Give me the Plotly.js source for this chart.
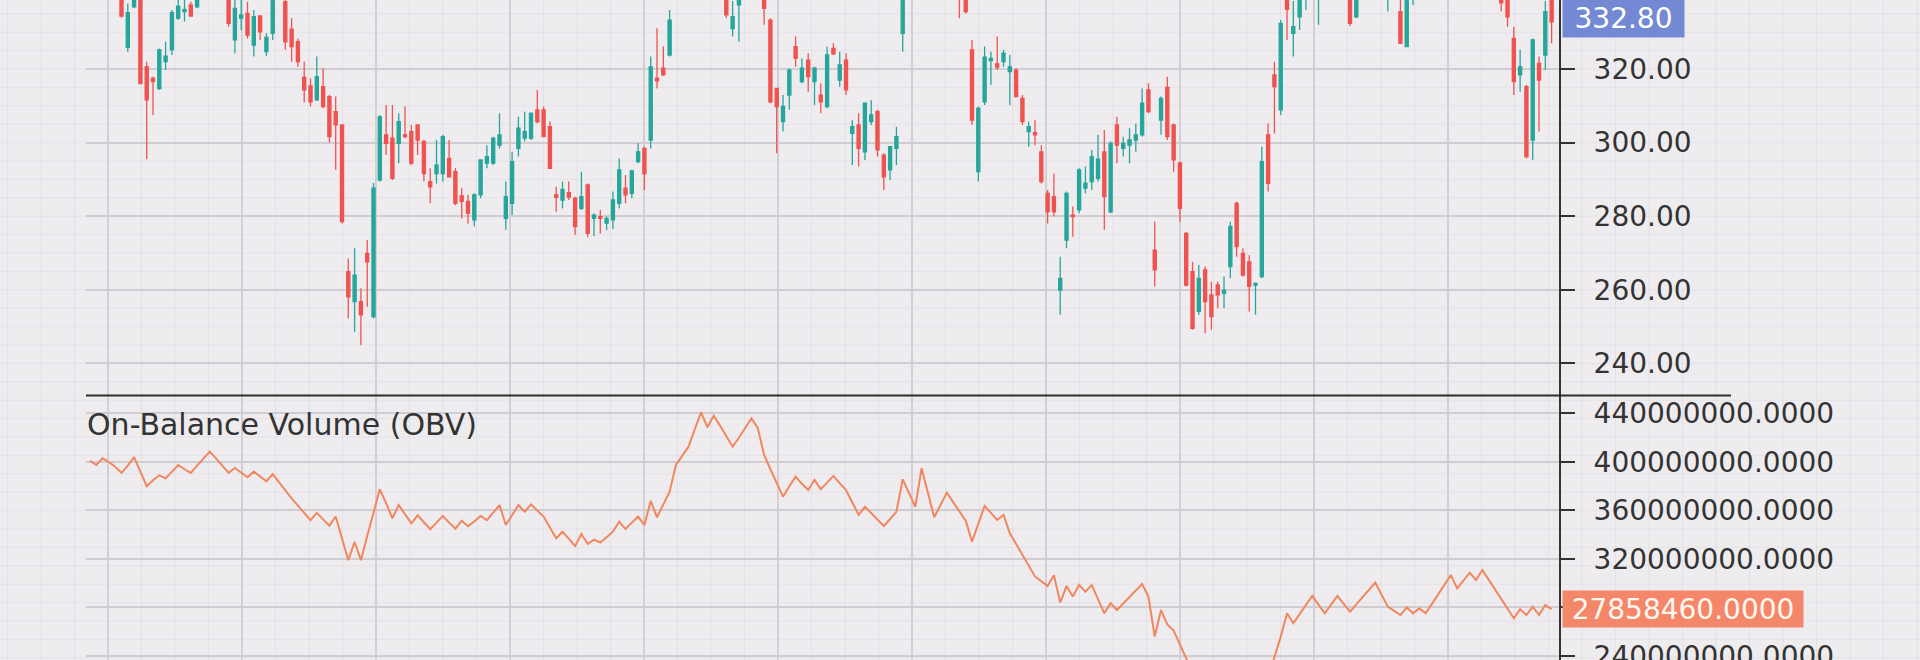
<!DOCTYPE html>
<html>
<head>
<meta charset="utf-8">
<script src="https://cdn.plot.ly/plotly-3.0.1.min.js"></script>
<style>
html,body{margin:0;padding:0;background:#efecf0;}
#chart{width:1920px;height:660px;}
</style>
</head>
<body>
<div id="chart"></div>
<script>
// ---- data ----
const openP = [
345,343,341.5,345,343,341,325.9,336.9,341,320.6,
317.5,314.7,322,325.2,333.8,335.6,337.4,336.9,340,344,
347,344,341,327.9,333.8,335.1,326.5,334.4,324.7,329.7,
340,338.3,330.8,327.4,317.7,315.4,311.6,315.2,312.5,308.4,
304.8,264.9,256.8,256.8,269.9,252.7,289.8,302.1,301.2,299.8,
302.1,303,304.8,300.3,289.4,291.6,291.6,295.7,292.1,285.5,
284,279,285.8,294.4,294.4,299.3,279.4,283.5,298.4,301.2,
301.2,308.9,308.9,304.3,285.8,284.4,286.4,284.9,282.1,288.5,
279.4,279.9,278.1,279,283.5,287.6,286.2,294.8,298.4,300.7,
317.5,320.2,323.8,340,343,345.5,349,352,350,347,
349.5,341,331,337.4,340.5,344,346.5,341,333.3,314.7,
305.7,312.9,326.1,316.6,322.4,316.6,312.9,309.8,325.6,317,
322.4,302.5,304.8,297.5,305.7,308.4,296.6,292.6,298.4,329.7,
340,343,341,347,343,340.5,344,348,341,341,
325.2,292.1,311.1,322.3,321.4,322,319.3,319.7,312,303,
302.7,297.5,286.2,285.3,259.9,273.5,280.3,281.7,287.6,289.4,
290.3,297.5,281.2,304.8,298.4,299.3,300.7,302.1,314.3,270.8,
306.1,315,304.8,294.5,275.3,264.9,254.1,265.4,258.6,261.3,
259,266.3,283.5,269.9,267.6,261.3,263.6,302.1,318.4,308.9,
340,329.7,334.2,339.5,341,340,342,345,343,347,
341,334.2,340,343,346,349,339.5,341,335.6,326.1,
339.5,341,344,341,345,348,351,354,350,353,
356,352,355,350,339.5,339.5,328.3,318.4,315.2,300.7,
321.5,323.8,339
];
const highP = [
347,345,346,346.5,344,341.5,337.8,341,343,322,
317.9,325.6,327.4,336,339,339.5,338.3,341,345,348,
348.5,345.5,343,340,339.5,338.3,336,334.6,329.7,341,
344,340,333.8,328.3,322,317.5,323.4,320.2,313,312.5,
305,268.5,271.3,260.4,273.5,289,307.5,310.2,310.2,308,
309.8,304.8,304.8,300.7,293,300.7,302.1,300.7,293,287.6,
285.8,286.2,295.3,299.3,301.6,308,289.4,297.5,307,308.4,
308,314.3,309.8,305.7,288,289.4,289.4,285.3,292.1,288.9,
280.8,281.7,279.9,286.7,295.7,291.2,292.6,299.8,298.9,323.4,
331.1,326.1,336,345,347,350,354,356,352,351,
350,343,338.5,341.5,345,348,347,343,333.8,314.7,
312.9,320.2,328.8,322.9,324.3,320.6,316.1,326.1,327,324.7,
324.3,306.1,308,310.7,311.6,308.9,297.1,298.9,304.3,341,
344,345,348,348,344,345,349,349,343,342,
327.9,309.8,326.1,324.7,328.8,325.2,323.8,320.2,312.9,305.7,
306.1,299.3,287.1,291.6,269,286.7,282.6,293,293.5,298,
302.1,303.4,300.3,307,301.6,303.9,305.2,314.7,316.1,278.5,
312.5,317.9,305.2,294.8,275.8,267.6,266.7,266.3,262.2,262.2,
263.6,278.5,284,271.3,269.4,262,298.9,305.2,322,333.3,
341,338.5,340,343,345,343,346,347,348,348,
343,341,344,347,350,350,342.5,342,339.5,341,
342,345,345,346,349,352,355,355,354,357,
357,356,356,351,341,341,331.5,325.2,315.7,328.3,
323.4,338.5,340
];
const lowP = [
342,340.5,340.5,342,340,333.9,324.7,336.5,315.8,295.5,
307.5,314.3,319.7,323.8,333.3,332.9,334.2,336.5,339.6,342,
343,340.5,331.5,324.3,330.6,328.3,323.4,327.9,323.5,327.9,
339.6,325.2,322,320.6,310.9,309.8,311.3,309.3,300,292.6,
278,252.2,248.6,245,255.4,252.2,289.4,296.6,289.8,294.4,
301.2,293.9,296.6,289.4,283.5,288.9,289.4,290.7,283,279.4,
278,277.2,284.9,293,293.9,298.4,276.3,280.3,296.2,300.3,
300.7,305.2,301.6,293,281.2,282.1,284.4,274.9,281.7,274.3,
274.6,275.3,276.2,276.5,282.1,283.5,284.9,294.4,287.1,298.4,
314.7,318.1,323.4,339.6,341,344,347,349,346,345,
344,333.8,328.8,327.4,339.8,342,342,332,310.7,297.1,
303,308.9,320.6,316.1,313.8,310.2,308,309.3,323.8,315.2,
312.9,293.9,293.5,295.3,304.8,296.2,287.1,289.8,293.9,324.7,
339.6,340,340.5,342,339.8,340,343,343,333.8,335,
304.8,289.4,310.2,315.7,319.7,320.6,310.2,312.5,304.8,298.9,
299.3,288.9,278,279.9,253.2,271.3,274.4,280.8,286.2,287.1,
289.4,276.3,280.8,294.4,296.2,294.4,297.5,301.6,308,260.9,
302.1,300.7,292.1,278.5,260.9,249.1,253.2,248.2,249.1,255,
255,263.1,269,263.6,254.1,253.2,263.1,286.7,302.5,307.5,
327.9,323.4,330.6,336,340,332,341,342,342.5,343,
331.7,333.8,339.6,342,345,344,335.6,339.6,327,325.9,
337.4,340,340,340.5,344,347,350,349,349,352,
351,351,349,343,335.6,331.5,312.9,313.8,295.7,295.3,
303,319.7,327
];
const closeP = [
343,341.5,345,343,341,334.4,335.3,339.5,316.1,311.6,
316.6,325.2,323.5,335.3,337.1,336.2,334.4,339.5,344,347,
344,341.5,332.4,336.5,334.7,329.2,334.2,330.1,328.6,339.5,
342,327.4,326.1,322,314.3,311.1,317.9,309.8,301.6,304.8,
278.5,258.1,264,253.2,267.6,287.6,307,299.8,290.3,305.7,
301.6,294.4,300.7,291.6,288,293.9,301.6,290.7,283.5,284,
280.8,285.8,295.3,296.2,301.2,302.1,285.3,294.8,303.9,303,
308,305.7,301.6,293,285.1,287.3,285.1,277.2,285.3,275.3,
280.3,279.4,279.4,284.4,292.6,285.8,292.3,297.5,291.6,320.6,
316.8,318.4,333.3,343,345.5,349,352,350,347,349.5,
345,334.7,334.2,340,344,346.5,343,336.5,311.1,309.8,
309.8,319.7,322.9,320.2,317.9,320.2,311.1,323.8,324.1,321.1,
314.3,304.3,298.4,310.7,307.5,298,290.7,298.9,301.6,339,
343,341,347,343,340.5,344,348,344.5,339.5,335.6,
306.1,309.3,323.2,322.9,320.5,324.3,320.6,312.5,305.7,304.3,
302.1,289.4,281.2,281.2,263.1,286.2,279.9,292.6,289,296.2,
295.5,285.3,299.8,299.3,299.8,300.7,302.1,310.7,308.4,265.4,
312,301.6,295.3,282.1,261.3,249.5,263.1,256.8,252.7,258.6,
259.8,277.2,271.7,264,260.9,261.7,294.8,288.9,315.2,332.4,
336.2,331.5,338.7,341,344,342,345,343,347,344,
332.4,339.5,343,346,349,345,341,340,327,339,
341,344,341,345,348,351,354,350,353,356,
352,355,350,344,338,334.2,316.6,320.6,296.2,327.9,
317,335.6,332.8
];
// On-Balance Volume, in millions
const obvMillions = [
401,397.5,403,400,396,391,397,404,392,380,
385,389,386.5,392,397.5,394,391,397,403,408.5,
403,397,391,395,391,387.4,392,388,384,390,
383,376,370,364,358,352,358,353,347.5,355,
337,319,334,319,339,358,377.5,366,353.6,364.5,
357,349.4,356,350,344.5,350,355.5,350,345,351.6,
347,351,355.5,352,358,364.5,348,356,364.5,359,
365,360,355,346,337,342.5,336.6,330.7,340.6,332.4,
336,333.5,338,342.5,350.8,344.7,350,355,348,368,
354.4,365,375.5,397.5,405,412.6,427,441,428.6,438.2,
430,421,412.6,420,428,436,427.8,405.8,394,382.4,
371.4,380,387.9,382,376.9,385.2,377.5,383,388.5,382.5,
376.9,366.6,356.3,363.1,357.8,352.5,347.2,353,359,385.7,
374.4,363.1,394.8,374.6,354.4,364.5,374.7,366.9,359.3,351.6,
334.3,349,363.7,358,352.2,356.3,341.2,332.3,323.4,314.5,
305.6,301.6,297.7,306.6,284,297.7,289,298.6,293,298.6,
286.9,275.2,283.5,277.9,283.3,288.7,294,299.4,289,256,
277.9,266,261,249,238,228,220,212,205,200,
196,205,200,195,190,188,205,222,240,256,
275.2,267,274.5,282,289.5,282.4,275.2,282.4,289.5,283,
276.5,282.5,288.5,294.5,300.5,290.6,280.7,277.2,273.8,280.2,
275.2,279.3,275.2,283,291,298.9,306.8,295.8,302.3,308.7,
302.7,310.9,303,295,287,279,271.1,278.5,273.8,280.7,
273.8,282,278.5846
];
const priceTicks = [240, 260, 280, 300, 320, 340];
const obvTicks = [240e6, 280e6, 320e6, 360e6, 400e6, 440e6];
// the 280M label sits under the last-value box in the reference
const obvTickText = ['240000000.0000', '', '320000000.0000', '360000000.0000', '400000000.0000', '440000000.0000'];
const lastPriceText = '332.80';
const lastObvText = '27858460.0000';
const panelTitle = 'On-Balance Volume (OBV)';

const idx = openP.map((_, i) => i);
const obv = obvMillions.map(v => v * 1e6);

// ---- geometry / style ----
const W = 1920, H = 660, ML = 86, MR = 361;
const PW = W - ML - MR;
const px2x = p => (p - ML) / PW;
const py2y = p => (H - p) / H;
const TXT = '#333333';
const FONT = 'DejaVu Sans';

const shapes = [];
// faint graph-paper grid across the whole picture
for (let p = 7.5; p < W; p += 33.5) {
  shapes.push({type:'line', xref:'paper', yref:'paper', x0:px2x(p), x1:px2x(p), y0:0, y1:1,
    line:{color:'rgba(90,80,100,0.07)', width:1}, layer:'below'});
}
for (let p = 13.8; p < H; p += 18.4) {
  shapes.push({type:'line', xref:'paper', yref:'paper', x0:px2x(0), x1:px2x(W), y0:py2y(p), y1:py2y(p),
    line:{color:'rgba(90,80,100,0.06)', width:1}, layer:'below'});
}
// panel separator
shapes.push({type:'line', xref:'paper', yref:'paper', x0:0, x1:px2x(1731), y0:py2y(395.5), y1:py2y(395.5),
  line:{color:'#2d2d2d', width:2}});

const traces = [
  {type:'candlestick', x:idx, open:openP, high:highP, low:lowP, close:closeP,
   xaxis:'x', yaxis:'y', whiskerwidth:0, hoverinfo:'skip',
   increasing:{line:{color:'#26a69a', width:1.3}, fillcolor:'#26a69a'},
   decreasing:{line:{color:'#ef5350', width:1.3}, fillcolor:'#ef5350'}},
  {type:'scatter', mode:'lines', x:idx, y:obv, xaxis:'x', yaxis:'y2', hoverinfo:'skip',
   line:{color:'#f0875e', width:2}}
];

const yCommon = {
  side:'right', anchor:'x', ticks:'outside', ticklen:14, tickwidth:2, tickcolor:'#333',
  showline:true, linecolor:'#333', linewidth:2, zeroline:false,
  showgrid:true, gridcolor:'#cfccd2', gridwidth:2, ticklabeloverflow:'allow',
  tickfont:{family:FONT, size:28, color:TXT}, ticklabelstandoff:13, fixedrange:true
};

const layout = {
  width:W, height:H,
  margin:{l:ML, r:MR, t:0, b:0, pad:0},
  paper_bgcolor:'#efecf0', plot_bgcolor:'rgba(0,0,0,0)',
  showlegend:false, dragmode:false,
  xaxis:{domain:[0,1], range:[-0.635, 233.17], anchor:'y2', showticklabels:false, ticks:'',
    showline:false, zeroline:false, showgrid:true, gridcolor:'#d2cfd5', gridwidth:1.5,
    tick0:2.86, dtick:21.27, rangeslider:{visible:false}, fixedrange:true},
  yaxis:Object.assign({}, yCommon, {domain:[265/660, 1], range:[231.4, 338.75],
    tickvals:priceTicks, tickformat:'.2f'}),
  yaxis2:Object.assign({}, yCommon, {domain:[0, 264/660], range:[236.7e6, 454.4e6],
    tickvals:obvTicks, ticktext:obvTickText}),
  shapes:shapes,
  annotations:[
    {text:panelTitle, xref:'paper', yref:'paper', x:0, y:py2y(406), xanchor:'left', yanchor:'top',
     showarrow:false, font:{family:FONT, size:30, color:TXT}, borderpad:0},
    {text:lastPriceText, xref:'paper', yref:'y', x:px2x(1562), y:closeP[closeP.length-1],
     xanchor:'left', yanchor:'middle', yshift:3, showarrow:false, width:121, height:37,
     align:'center', valign:'middle', bgcolor:'#7489d4', borderpad:0,
     font:{family:FONT, size:28, color:'#ffffff'}},
    {text:lastObvText, xref:'paper', yref:'y2', x:px2x(1562), y:obv[obv.length-1],
     xanchor:'left', yanchor:'middle', showarrow:false, width:240, height:36,
     align:'center', valign:'middle', bgcolor:'#f4876a', borderpad:0,
     font:{family:FONT, size:28, color:'#fff8f0'}}
  ]
};

Plotly.newPlot('chart', traces, layout, {staticPlot:true, displayModeBar:false});
</script>
</body>
</html>
